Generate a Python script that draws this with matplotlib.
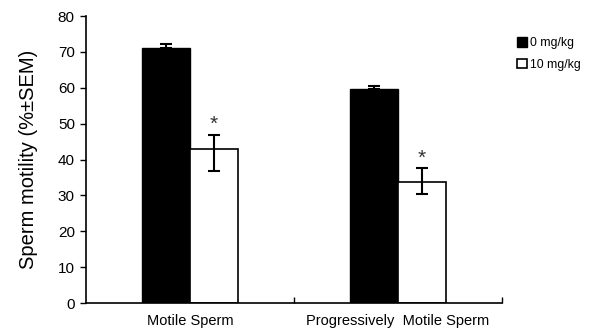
import numpy as np
import matplotlib
matplotlib.use("Agg")
import matplotlib.pyplot as plt

plt.rcParams['font.family'] = ['Liberation Sans', 'DejaVu Sans']

categories = ["Motile Sperm", "Progressively  Motile Sperm"]
groups = ["0 mg/kg", "10 mg/kg"]
ctrl_vals = [71.1, 59.7]
ctrl_err_up = [1.0, 0.9]
treat_vals = [43.0, 33.8]
treat_err_lo = [6.1, 3.5]
treat_err_up = [3.9, 3.7]
yticks = [0, 10, 20, 30, 40, 50, 60, 70, 80]


def main():
    fig = plt.figure(figsize=(6, 3.35), dpi=100)
    ax = fig.add_axes([0.1433, 0.0955, 0.6934, 0.8567])

    x = np.arange(len(categories))
    w = 0.23
    ekw = dict(ecolor="black", elinewidth=1.5, capthick=1.5, capsize=4.5)
    b1 = ax.bar(x - w / 2, ctrl_vals, w, color="black", edgecolor="black",
                linewidth=1, label=groups[0],
                yerr=[[0] * len(ctrl_vals), ctrl_err_up], error_kw=ekw)
    b2 = ax.bar(x + w / 2, treat_vals, w, color="white", edgecolor="black",
                linewidth=1.2, label=groups[1],
                yerr=[treat_err_lo, treat_err_up], error_kw=ekw)

    # significance marks
    for xi, v, e in zip(x, treat_vals, treat_err_up):
        ax.text(xi + w / 2, v + e + 2.8, "*", ha="center", va="center",
                fontsize=15, color="#333333")

    ax.set_xlim(-0.5, 1.5)
    ax.set_ylim(0, 80)
    ax.set_yticks(yticks)
    ax.tick_params(axis="y", labelsize=11, length=4, width=1, pad=4)
    ax.set_xticks(x)
    ax.set_xticklabels(categories)
    ax.tick_params(axis="x", which="major", length=0, labelsize=10.5, pad=8)
    ax.set_xticks([0.5, 1.5], minor=True)
    ax.tick_params(axis="x", which="minor", direction="in", length=4, width=1)
    for s in ["top", "right"]:
        ax.spines[s].set_visible(False)
    for s in ["left", "bottom"]:
        ax.spines[s].set_linewidth(1.2)

    ax.set_ylabel("Sperm motility (%±SEM)", fontsize=14.5, labelpad=14)

    fig.legend(handles=[b1, b2], loc="upper left",
               bbox_to_anchor=(0.862, 0.889), frameon=False, fontsize=8.8,
               handlelength=0.8, handleheight=0.8, handletextpad=0.25,
               labelspacing=0.78, borderpad=0, borderaxespad=0)

    fig.savefig("out.png", dpi=100)


main()
